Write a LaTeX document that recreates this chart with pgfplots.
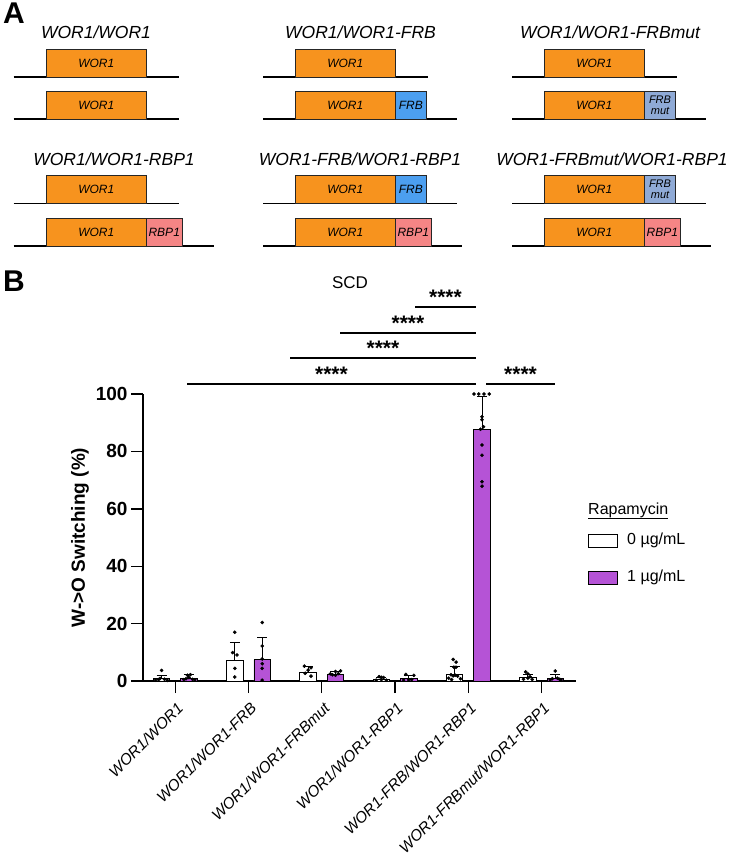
\documentclass[border=0pt]{standalone}
\usepackage{pgfplots}
\pgfplotsset{compat=1.18}
\usepackage{fontspec}
\setmainfont{Liberation Sans}
\definecolor{orng}{HTML}{F7931E}
\definecolor{frb}{HTML}{4C9FF0}
\definecolor{frbmut}{HTML}{8FAAD6}
\definecolor{rbp}{HTML}{F58585}
\definecolor{purp}{HTML}{B553D6}
\newcommand{\fs}[1]{\fontsize{#1}{#1}\selectfont}
% gene box: left x, bottom y
\newcommand{\wor}[2]{%
  \draw[bx,fill=orng] (#1,#2) rectangle ({#1+100.5},{#2-28});
  \node[gt] at ({#1+50.25},{#2-14}) {WOR1};}
% tag: left x, bottom y, width, colour, text
\newcommand{\gtag}[5]{%
  \draw[bx,fill=#4] (#1,#2) rectangle ({#1+#3},{#2-28});
  \node[gt,align=center] at ({#1+#3/2},{#2-14}) {#5};}
\newcommand{\gline}[3]{\draw[ln] (#1,#3) -- (#2,#3);}
\begin{document}
\begin{tikzpicture}[xl/.style={font=\itshape\fs{15.5},inner sep=0pt,xshift=1pt,yshift=-20pt,rotate=45,anchor=north east}]
\useasboundingbox (0pt,0pt) rectangle (731pt,-856pt);
\begin{scope}[x=1pt,y=-1pt,
  bx/.style={draw=black!85,line width=0.8pt},
  gt/.style={font=\itshape\fs{12},inner sep=0pt},
  ti/.style={font=\itshape\fs{17.5},inner sep=0pt},
  ln/.style={line width=1.1pt,black}]
\node[font=\bfseries\fs{30},inner sep=0pt] at (14,13) {A};
\node[font=\bfseries\fs{30},inner sep=0pt] at (14,281) {B};
% ---- row 1
\node[ti] at (96,32) {WOR1/WOR1};
\gline{13.5}{178.5}{77}\wor{46}{77}
\gline{13.5}{178.5}{119}\wor{46}{119}
\node[ti] at (360.5,32) {WOR1/WOR1-FRB};
\gline{263}{427.5}{77}\wor{295}{77}
\gline{263}{457}{119}\wor{295}{119}\gtag{395.5}{119}{30.5}{frb}{FRB}
\node[ti] at (610,32) {WOR1/WOR1-FRBmut};
\gline{512}{676.5}{77}\wor{544}{77}
\gline{512}{706}{119}\wor{544}{119}\gtag{644.5}{119}{31}{frbmut}{\fs{11}FRB\\[-1pt]\fs{11}mut}
% ---- row 2
\node[ti] at (114,159.3) {WOR1/WOR1-RBP1};
\gline{13.5}{178.5}{203.5}\wor{46}{203.5}
\gline{13.5}{214}{246}\wor{46}{246}\gtag{146.5}{246}{35.5}{rbp}{RBP1}
\node[ti] at (360,159.3) {WOR1-FRB/WOR1-RBP1};
\gline{263}{457}{203.5}\wor{295}{203.5}\gtag{395.5}{203.5}{30.5}{frb}{FRB}
\gline{263}{462}{246}\wor{295}{246}\gtag{395.5}{246}{35.5}{rbp}{RBP1}
\node[ti] at (612,159.3) {WOR1-FRBmut/WOR1-RBP1};
\gline{512}{706}{203.5}\wor{544}{203.5}\gtag{644.5}{203.5}{31}{frbmut}{\fs{11}FRB\\[-1pt]\fs{11}mut}
\gline{512}{711}{246}\wor{544}{246}\gtag{644.5}{246}{35.5}{rbp}{RBP1}
% ---- SCD and significance
\node[font=\fs{17},inner sep=0pt] at (350,283) {SCD};
\draw[ln] (415,307) -- (476,307);
\draw[ln] (340,333) -- (476,333);
\draw[ln] (290,358) -- (476,358);
\draw[ln] (187,384) -- (476,384);
\draw[ln] (486,384) -- (555,384);
\node[font=\bfseries\fs{21},inner sep=0pt,anchor=base] at (445.5,304) {****};
\node[font=\bfseries\fs{21},inner sep=0pt,anchor=base] at (408,330) {****};
\node[font=\bfseries\fs{21},inner sep=0pt,anchor=base] at (383,355) {****};
\node[font=\bfseries\fs{21},inner sep=0pt,anchor=base] at (331.5,381) {****};
\node[font=\bfseries\fs{21},inner sep=0pt,anchor=base] at (520.5,381) {****};
% ---- legend
\node[font=\fs{16},inner sep=0pt,anchor=base west] (rt) at (588,514) {Rapamycin};
\draw[line width=0.9pt] (588,518.5) -- (rt.base east |- 0,518.5);
\draw[line width=0.9pt,fill=white] (588,534) rectangle (617,547);
\node[font=\fs{16},inner sep=0pt,anchor=west] at (627,540.5) {0 µg/mL};
\draw[line width=0.9pt,fill=purp] (588,571) rectangle (617,584);
\node[font=\fs{16},inner sep=0pt,anchor=west] at (627,577.5) {1 µg/mL};
\end{scope}
\begin{axis}[
  at={(143pt,-681pt)}, anchor=south west,
  scale only axis, width=433pt, height=287pt,
  xmin=-0.44, xmax=5.47, ymin=0, ymax=100,
  clip=false,
  axis x line*=bottom, axis y line*=left,
  axis line style={-,line width=1.4pt},
  x axis line style={-}, y axis line style={-},
  tick align=outside, major tick length=12pt,
  tick style={black,line width=1.4pt},
  xtick={0,1,2,3,4,5}, ytick={0,20,40,60,80,100},
  minor tick num=0,
  /pgf/number format/assume math mode=true,
  yticklabel style={font=\bfseries\fs{19}},
  xticklabels={},
  ylabel={W->O Switching (\%)},
  every axis y label/.style={at={(axis description cs:-0.1455,0.5)},rotate=90,anchor=center,font=\bfseries\fs{19}},
]
% white bars
\addplot[ybar, bar width=16.5pt, bar shift=0pt, fill=white, draw=black, line width=0.9pt,
  error bars/.cd, y dir=plus, y explicit,
  error bar style={black,line width=0.9pt},
  error mark options={rotate=90,mark size=5pt,black,line width=0.9pt}]
coordinates {(-0.187,0.9) +- (0,0.9) (0.813,7.2) +- (0,6.2) (1.813,3.0) +- (0,2.0)
 (2.813,0.7) +- (0,0.7) (3.813,2.3) +- (0,2.9) (4.813,1.3) +- (0,1.0)};
% purple bars
\addplot[ybar, bar width=16.5pt, bar shift=0pt, fill=purp, draw=black, line width=0.9pt,
  error bars/.cd, y dir=plus, y explicit,
  error bar style={black,line width=0.9pt},
  error mark options={rotate=90,mark size=5pt,black,line width=0.9pt}]
coordinates {(0.187,1.0) +- (0,1.2) (1.187,7.4) +- (0,7.7) (2.187,2.3) +- (0,1.1)
 (3.187,0.8) +- (0,1.2) (4.187,87.7) +- (0,11.4) (5.187,0.9) +- (0,1.4)};
% white dots
\addplot[only marks, mark=*, mark size=1.6pt, black] coordinates {
 (-0.267,0.3) (-0.227,0.5) (-0.187,3.7) (-0.147,0.6) (-0.107,0.2) (-0.207,0.9)
 (0.813,17.0) (0.783,9.9) (0.843,9.1) (0.813,4.4) (0.813,1.4)
 (1.763,5.2) (1.853,4.6) (1.813,3.8) (1.773,2.7) (1.853,1.7)
 (2.743,0.3) (2.783,1.5) (2.813,1.3) (2.843,1.2) (2.883,0.3) (2.813,0.5)
 (3.793,7.5) (3.833,6.6) (3.803,4.8) (3.833,4.8) (3.733,1.0) (3.763,2.2) (3.793,1.8) (3.823,2.0) (3.853,1.7) (3.893,0.8) (3.773,0.5)
 (4.753,0.6) (4.783,3.2) (4.813,2.5) (4.843,1.5) (4.873,0.5) (4.813,1.0)};
% purple dots
\addplot[only marks, mark=*, mark size=1.6pt, black] coordinates {
 (0.117,0.5) (0.147,0.8) (0.167,2.0) (0.207,2.2) (0.237,0.6) (0.267,0.4) (0.187,1.2)
 (1.187,20.4) (1.187,12.2) (1.187,7.7) (1.187,6.0) (1.187,4.4) (1.187,0.3)
 (2.117,2.5) (2.147,2.2) (2.187,3.3) (2.227,2.6) (2.257,3.5) (2.187,2.0)
 (3.117,0.3) (3.147,2.3) (3.187,0.4) (3.227,0.5) (3.257,2.0)
 (4.077,100) (4.142,100) (4.214,100) (4.287,100) (4.187,92.1) (4.187,91.0) (4.207,88.6) (4.167,87.7) (4.187,82.2) (4.187,78.7) (4.187,69.4) (4.187,67.9)
 (5.117,0.4) (5.147,0.8) (5.187,3.5) (5.217,1.0) (5.247,0.6) (5.267,0.3)};
% category labels at the ticks
\node[xl] at (axis cs:0,0) {WOR1/WOR1};
\node[xl] at (axis cs:1,0) {WOR1/WOR1-FRB};
\node[xl] at (axis cs:2,0) {WOR1/WOR1-FRBmut};
\node[xl] at (axis cs:3,0) {WOR1/WOR1-RBP1};
\node[xl] at (axis cs:4,0) {WOR1-FRB/WOR1-RBP1};
\node[xl] at (axis cs:5,0) {WOR1-FRBmut/WOR1-RBP1};
\end{axis}
\end{tikzpicture}
\end{document}
